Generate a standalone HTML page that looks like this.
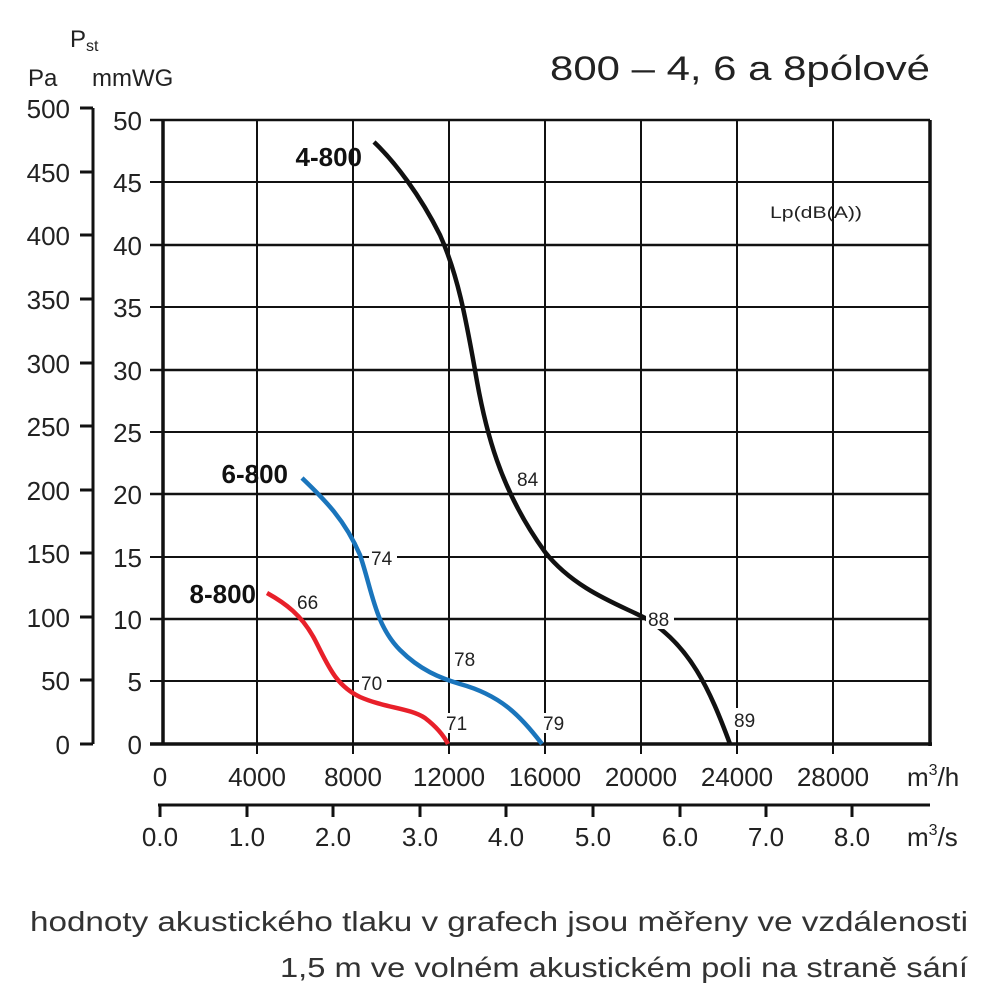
<!DOCTYPE html>
<html><head><meta charset="utf-8"><style>body{margin:0;background:#fff}svg{display:block}</style></head><body>
<svg width="1000" height="1000" viewBox="0 0 1000 1000" xmlns="http://www.w3.org/2000/svg" font-family="Liberation Sans, sans-serif" fill="#222">
<g stroke="#111">
<g stroke-width="2.5">
<line x1="150" y1="120" x2="930" y2="120"/><line x1="150" y1="245" x2="930" y2="245"/><line x1="150" y1="370" x2="930" y2="370"/><line x1="150" y1="494" x2="930" y2="494"/><line x1="150" y1="619" x2="930" y2="619"/>
</g>
<g stroke-width="2">
<line x1="150" y1="182" x2="930" y2="182"/><line x1="150" y1="307" x2="930" y2="307"/><line x1="150" y1="432" x2="930" y2="432"/><line x1="150" y1="557" x2="930" y2="557"/><line x1="150" y1="681" x2="930" y2="681"/>
</g>
<line x1="150" y1="744" x2="932" y2="744" stroke-width="3.5"/>
<line x1="163" y1="120" x2="163" y2="744" stroke-width="3.5"/>
<line x1="930" y1="120" x2="930" y2="746" stroke-width="3.5"/>
<g stroke-width="2">
<line x1="257" y1="120" x2="257" y2="754"/><line x1="353" y1="120" x2="353" y2="754"/><line x1="449" y1="120" x2="449" y2="754"/><line x1="545" y1="120" x2="545" y2="754"/><line x1="641" y1="120" x2="641" y2="754"/><line x1="737" y1="120" x2="737" y2="754"/><line x1="833" y1="120" x2="833" y2="754"/>
</g>
<line x1="93" y1="108" x2="93" y2="744" stroke-width="3"/>
<g stroke-width="3">
<line x1="80" y1="108" x2="93" y2="108"/><line x1="80" y1="172" x2="93" y2="172"/><line x1="80" y1="235" x2="93" y2="235"/><line x1="80" y1="299" x2="93" y2="299"/><line x1="80" y1="363" x2="93" y2="363"/><line x1="80" y1="426" x2="93" y2="426"/><line x1="80" y1="490" x2="93" y2="490"/><line x1="80" y1="553" x2="93" y2="553"/><line x1="80" y1="617" x2="93" y2="617"/><line x1="80" y1="680" x2="93" y2="680"/><line x1="80" y1="744" x2="93" y2="744"/>
</g>
<line x1="158" y1="805" x2="930" y2="805" stroke-width="3"/>
<g stroke-width="3">
<line x1="160" y1="805" x2="160" y2="817"/><line x1="247" y1="805" x2="247" y2="817"/><line x1="333" y1="805" x2="333" y2="817"/><line x1="420" y1="805" x2="420" y2="817"/><line x1="506" y1="805" x2="506" y2="817"/><line x1="593" y1="805" x2="593" y2="817"/><line x1="680" y1="805" x2="680" y2="817"/><line x1="766" y1="805" x2="766" y2="817"/><line x1="852" y1="805" x2="852" y2="817"/>
</g>
</g>
<g font-size="26" text-anchor="end">
<text x="70" y="118">500</text><text x="70" y="182">450</text><text x="70" y="245">400</text><text x="70" y="309">350</text><text x="70" y="373">300</text><text x="70" y="436">250</text><text x="70" y="500">200</text><text x="70" y="563">150</text><text x="70" y="627">100</text><text x="70" y="690">50</text><text x="70" y="754">0</text>
<text x="142" y="130">50</text><text x="142" y="192">45</text><text x="142" y="255">40</text><text x="142" y="317">35</text><text x="142" y="380">30</text><text x="142" y="442">25</text><text x="142" y="504">20</text><text x="142" y="567">15</text><text x="142" y="629">10</text><text x="142" y="691">5</text><text x="142" y="754">0</text>
</g>
<g font-size="26" text-anchor="middle">
<text x="160" y="786">0</text><text x="257" y="786">4000</text><text x="353" y="786">8000</text><text x="449" y="786">12000</text><text x="545" y="786">16000</text><text x="641" y="786">20000</text><text x="737" y="786">24000</text><text x="833" y="786">28000</text>
<text x="160" y="846">0.0</text><text x="247" y="846">1.0</text><text x="333" y="846">2.0</text><text x="420" y="846">3.0</text><text x="506" y="846">4.0</text><text x="593" y="846">5.0</text><text x="680" y="846">6.0</text><text x="766" y="846">7.0</text><text x="852" y="846">8.0</text>
</g>
<text x="907" y="786" font-size="26">m<tspan font-size="16" dy="-11">3</tspan><tspan dy="11">/h</tspan></text>
<text x="907" y="846" font-size="26">m<tspan font-size="16" dy="-11">3</tspan><tspan dy="11">/s</tspan></text>
<text x="28" y="86" font-size="24">Pa</text>
<text x="70" y="47" font-size="24">P<tspan font-size="16" dy="4">st</tspan></text>
<text x="92" y="86" font-size="24">mmWG</text>
<text x="930" y="80" font-size="34" text-anchor="end" textLength="380" lengthAdjust="spacingAndGlyphs">800 – 4, 6 a 8pólové</text>
<text x="862" y="218" font-size="17" text-anchor="end" textLength="92" lengthAdjust="spacingAndGlyphs">Lp(dB(A))</text>
<g font-size="26" font-weight="bold" text-anchor="end" fill="#111">
<text x="362" y="166">4-800</text><text x="288" y="483">6-800</text><text x="256" y="603">8-800</text>
</g>
<path d="M374,142 C395,162 420,195 440,235 C458,275 466,320 475,370 C485,430 500,490 545,552 C575,590 620,605 645,618 C690,645 710,690 730,744" fill="none" stroke="#111" stroke-width="4.5"/>
<path d="M302,478 C325,500 345,520 360,555 C372,590 375,625 400,650 C420,670 440,678 460,684 C500,695 520,715 542,744" fill="none" stroke="#1a75bc" stroke-width="4.5"/>
<path d="M267,593 C285,603 302,615 315,640 C328,665 335,685 360,697 C385,708 410,708 425,718 C438,728 444,736 448,744" fill="none" stroke="#e8202a" stroke-width="4.5"/>
<g font-size="19">
<rect x="369" y="546" width="28" height="22" fill="#fff"/><text x="371" y="565">74</text>
<text x="297" y="609">66</text>
<rect x="359" y="671" width="28" height="22" fill="#fff"/><text x="361" y="690">70</text>
<text x="454" y="666">78</text>
<rect x="444" y="713" width="28" height="20" fill="#fff"/><text x="446" y="730">71</text>
<rect x="541" y="713" width="28" height="20" fill="#fff"/><text x="543" y="730">79</text>
<text x="517" y="486">84</text>
<rect x="646" y="607" width="28" height="22" fill="#fff"/><text x="648" y="626">88</text>
<rect x="732" y="708" width="28" height="22" fill="#fff"/><text x="734" y="727">89</text>
</g>
<g font-size="28" text-anchor="end" fill="#333">
<text x="968" y="931" textLength="938" lengthAdjust="spacingAndGlyphs">hodnoty akustického tlaku v grafech jsou měřeny ve vzdálenosti</text>
<text x="968" y="977" textLength="688" lengthAdjust="spacingAndGlyphs">1,5 m ve volném akustickém poli na straně sání</text>
</g>
</svg>
</body></html>
